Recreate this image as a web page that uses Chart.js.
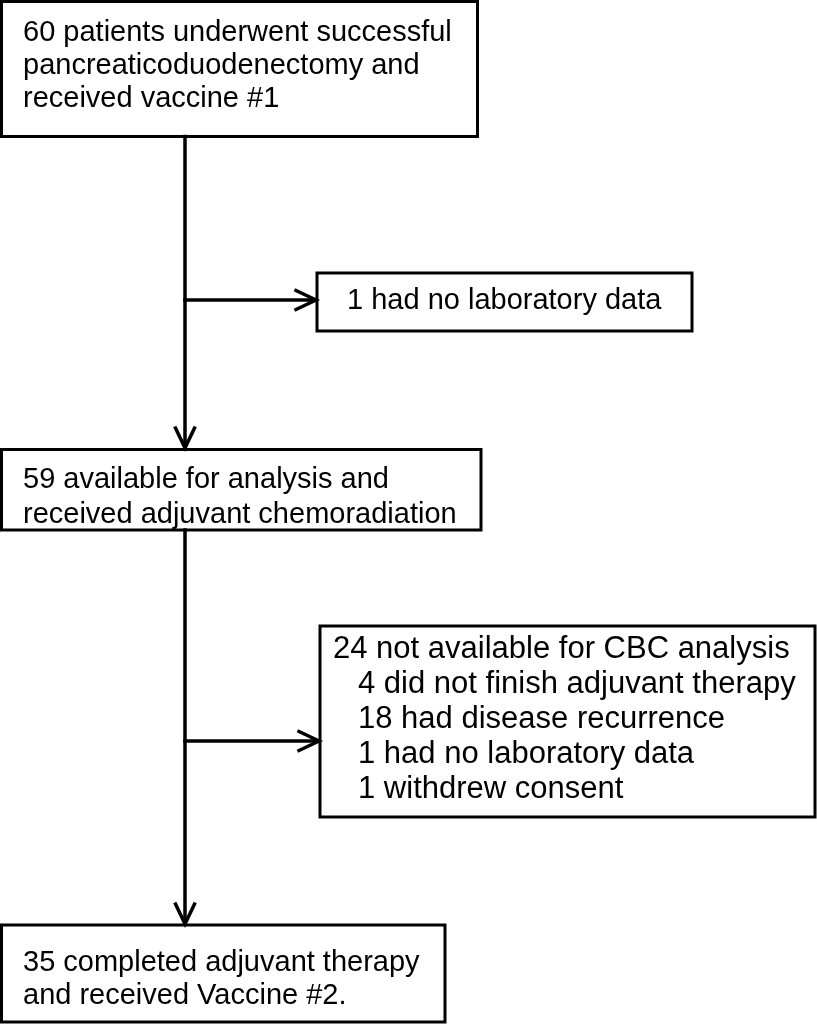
<!DOCTYPE html>
<html>
<head>
<meta charset="utf-8">
<script src="https://cdn.jsdelivr.net/npm/chart.js@4"></script>
<style>
  html, body { margin: 0; padding: 0; background: #fff; }
  canvas { display: block; }
</style>
</head>
<body>
<canvas id="flow" width="817" height="1025"></canvas>
<script>
// ============================================================================
// Flow data (text of each box)
// ============================================================================
const enrolledLines = ['60 patients underwent successful', 'pancreaticoduodenectomy and', 'received vaccine #1'];
const excluded1Lines = ['1 had no laboratory data'];
const analysedLines = ['59 available for analysis and', 'received adjuvant chemoradiation'];
const excluded2Title = ['24 not available for CBC analysis'];
const excluded2Reasons = ['4 did not finish adjuvant therapy', '18 had disease recurrence', '1 had no laboratory data', '1 withdrew consent'];
const completedLines = ['35 completed adjuvant therapy', 'and received Vaccine #2.'];

// ============================================================================
// Layout in chart units (x: 0..817, y: 0..1025, top-down)
// ============================================================================
const boxes = [
    { x0: 1.5, x1: 477.5, y0: 1.5, y1: 136.5, textX: 23, baseY: 41, gap: 33, size: 29, lines: enrolledLines },
    { x0: 317, x1: 692, y0: 273, y1: 331, textX: 347, baseY: 309, gap: 33, size: 29, lines: excluded1Lines },
    { x0: 1.5, x1: 481, y0: 449.5, y1: 530, textX: 23, baseY: 488, gap: 35, size: 29, lines: analysedLines },
    { x0: 320, x1: 815, y0: 626, y1: 817, textX: 333, baseY: 658, gap: 35, size: 31, lines: excluded2Title,
      subX: 358, subLines: excluded2Reasons },
    { x0: 1.5, x1: 445, y0: 925, y1: 1022, textX: 23, baseY: 971, gap: 33, size: 29, lines: completedLines }
];
const spineX = 185;

// connectors: [from, to] points
const connectors = [
    [[spineX, 136.5], [spineX, 448]],
    [[spineX, 530], [spineX, 924]],
    [[spineX, 300], [316, 300]],
    [[spineX, 741], [319, 741]]
];

function boxPath(b) {
    return [
        { x: b.x0, y: b.y0 }, { x: b.x1, y: b.y0 },
        { x: b.x1, y: b.y1 }, { x: b.x0, y: b.y1 }, { x: b.x0, y: b.y0 }
    ];
}

// open V arrow head at the end of a connector
function arrowHead(seg) {
    const [a, b] = seg;
    const len = 20, half = 9.5;
    const dx = Math.sign(b[0] - a[0]), dy = Math.sign(b[1] - a[1]);
    const bx = b[0] - dx * len, by = b[1] - dy * len;
    const px = -dy * half, py = dx * half;
    return [
        { x: bx + px, y: by + py },
        { x: b[0], y: b[1] },
        { x: bx - px, y: by - py }
    ];
}

const datasets = [];
boxes.forEach(b => datasets.push({ data: boxPath(b), borderWidth: 3 }));
connectors.forEach(c => {
    datasets.push({ data: c.map(p => ({ x: p[0], y: p[1] })), borderWidth: 3.5 });
    datasets.push({ data: arrowHead(c), borderWidth: 3.5 });
});
datasets.forEach(d => {
    d.type = 'line';
    d.borderColor = '#000';
    d.pointRadius = 0;
    d.fill = false;
    d.tension = 0;
    d.borderCapStyle = 'square';
    d.borderJoinStyle = 'miter';
});

// Text inside boxes, positioned via the chart scales
const boxText = {
    id: 'boxText',
    afterDatasetsDraw(chart) {
        const { ctx, scales: { x, y } } = chart;
        ctx.save();
        ctx.fillStyle = '#000';
        ctx.textBaseline = 'alphabetic';
        ctx.textAlign = 'left';
        boxes.forEach(b => {
            ctx.font = b.size + "px 'Liberation Sans', Arial, sans-serif";
            let row = 0;
            b.lines.forEach(t => {
                ctx.fillText(t, x.getPixelForValue(b.textX), y.getPixelForValue(b.baseY + row * b.gap));
                row++;
            });
            (b.subLines || []).forEach(t => {
                ctx.fillText(t, x.getPixelForValue(b.subX), y.getPixelForValue(b.baseY + row * b.gap));
                row++;
            });
        });
        ctx.restore();
    }
};

new Chart(document.getElementById('flow'), {
    type: 'scatter',
    data: { datasets: datasets },
    options: {
        responsive: false,
        animation: false,
        devicePixelRatio: 1,
        layout: { padding: 0 },
        plugins: { legend: { display: false }, tooltip: { enabled: false } },
        scales: {
            x: { type: 'linear', min: 0, max: 817, display: false },
            y: { type: 'linear', min: 0, max: 1025, reverse: true, display: false }
        }
    },
    plugins: [boxText]
});
</script>
</body>
</html>
